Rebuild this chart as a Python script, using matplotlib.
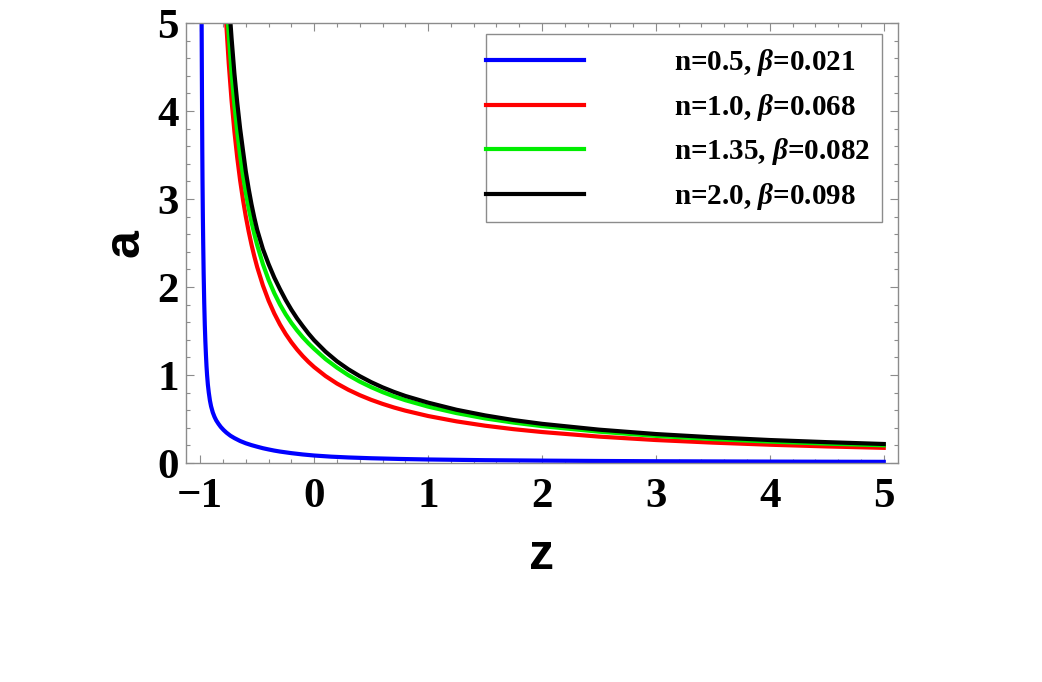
import matplotlib
matplotlib.use("Agg")
import matplotlib.pyplot as plt
from matplotlib.patches import Rectangle
from matplotlib.ticker import MultipleLocator

# ---- data ----
labels = [r"n=0.5, $\beta$=0.021", r"n=1.0, $\beta$=0.068",
          r"n=1.35, $\beta$=0.082", r"n=2.0, $\beta$=0.098"]
colors = ["#0000ff", "#ff0000", "#00ee00", "#000000"]

z_blue = [-0.988, -0.986, -0.984, -0.982, -0.980, -0.977, -0.974, -0.970, -0.965, -0.960,
          -0.955, -0.950, -0.945, -0.940, -0.933, -0.925, -0.915, -0.905, -0.89, -0.875,
          -0.86, -0.84, -0.82, -0.795, -0.77, -0.735, -0.70, -0.65, -0.60, -0.55,
          -0.50, -0.45, -0.40, -0.35, -0.30, -0.2, -0.1, 0.0, 0.15, 0.3,
          0.5, 0.75, 1.0, 1.5, 2.0, 2.5, 3.0, 4.0, 5.0]
a_blue = [5.05, 4.5, 4.0, 3.55, 3.2, 2.8, 2.5, 2.15, 1.82, 1.57,
          1.38, 1.23, 1.10, 1.00, 0.89, 0.80, 0.71, 0.645, 0.575, 0.525,
          0.485, 0.445, 0.41, 0.375, 0.345, 0.31, 0.283, 0.25, 0.224, 0.203,
          0.185, 0.168, 0.154, 0.141, 0.13, 0.112, 0.097, 0.085, 0.072, 0.063,
          0.054, 0.046, 0.040, 0.032, 0.027, 0.023, 0.020, 0.016, 0.013]

z_red = [-0.79, -0.775, -0.75, -0.725, -0.70, -0.675, -0.65, -0.625, -0.60, -0.575,
         -0.55, -0.525, -0.50, -0.45, -0.40, -0.35, -0.30, -0.25, -0.20, -0.15,
         -0.10, -0.05, 0.0, 0.1, 0.2, 0.3, 0.4, 0.5, 0.6, 0.7,
         0.8, 1.0, 1.25, 1.5, 1.75, 2.0, 2.5, 3.0, 3.5, 4.0, 4.5, 5.0]
a_red = [5.44, 5.065, 4.545, 4.119, 3.766, 3.468, 3.213, 2.994, 2.801, 2.632,
         2.481, 2.347, 2.226, 2.018, 1.845, 1.699, 1.574, 1.466, 1.372, 1.289,
         1.215, 1.149, 1.09, 0.988, 0.903, 0.832, 0.771, 0.718, 0.672, 0.631,
         0.595, 0.534, 0.473, 0.424, 0.3845, 0.352, 0.300, 0.261, 0.2315, 0.2077, 0.1883, 0.1722]

z_green = [-0.76, -0.75, -0.725, -0.70, -0.675, -0.65, -0.625, -0.60, -0.575, -0.55,
           -0.525, -0.50, -0.45, -0.40, -0.35, -0.30, -0.25, -0.20, -0.15, -0.10,
           -0.05, 0.0, 0.1, 0.2, 0.3, 0.4, 0.5, 0.6, 0.7, 0.8,
           1.0, 1.25, 1.5, 1.75, 2.0, 2.5, 3.0, 3.5, 4.0, 4.5, 5.0]
a_green = [5.073, 4.872, 4.432, 4.067, 3.759, 3.496, 3.269, 3.070, 2.895, 2.739,
           2.600, 2.475, 2.260, 2.081, 1.930, 1.801, 1.689, 1.592, 1.506, 1.429,
           1.360, 1.297, 1.181, 1.084, 0.998, 0.925, 0.862, 0.806, 0.757, 0.714,
           0.641, 0.567, 0.507, 0.459, 0.419, 0.356, 0.308, 0.272, 0.243, 0.220, 0.201]

z_black = [-0.74, -0.725, -0.70, -0.675, -0.65, -0.625, -0.60, -0.575, -0.55, -0.525,
           -0.50, -0.45, -0.40, -0.35, -0.30, -0.25, -0.20, -0.15, -0.10, -0.05,
           0.0, 0.1, 0.2, 0.3, 0.4, 0.5, 0.6, 0.7, 0.8, 1.0,
           1.25, 1.5, 1.75, 2.0, 2.5, 3.0, 3.5, 4.0, 4.5, 5.0]
a_black = [5.10, 4.827, 4.425, 4.092, 3.801, 3.554, 3.314, 3.116, 2.940, 2.786,
           2.649, 2.432, 2.260, 2.107, 1.975, 1.852, 1.742, 1.643, 1.555, 1.471,
           1.395, 1.265, 1.156, 1.065, 0.987, 0.919, 0.860, 0.808, 0.762, 0.686,
           0.605, 0.541, 0.488, 0.445, 0.379, 0.329, 0.292, 0.261, 0.237, 0.216]

series = [(z_blue, a_blue), (z_red, a_red), (z_green, a_green), (z_black, a_black)]

plt.rcParams['mathtext.fontset'] = 'custom'
plt.rcParams['mathtext.it'] = 'Liberation Serif:italic:bold'
plt.rcParams['mathtext.rm'] = 'Liberation Serif:bold'
plt.rcParams['mathtext.bf'] = 'Liberation Serif:bold'

fig = plt.figure(figsize=(10.42, 6.82), dpi=100)
ax = fig.add_axes([186/1042, 1-463/682, 712/1042, 440/682])

for (zz, aa), c, lab in zip(series, colors, labels):
    ax.plot(zz, aa, color=c, lw=3.0, label=lab, solid_joinstyle='round')

ax.set_xlim(-1.125, 5.125)
ax.set_ylim(0, 5)

gray = '#8c8c8c'
for s in ax.spines.values():
    s.set_color(gray)
    s.set_linewidth(1.0)

ax.xaxis.set_major_locator(MultipleLocator(1))
ax.xaxis.set_minor_locator(MultipleLocator(0.2))
ax.yaxis.set_major_locator(MultipleLocator(1))
ax.yaxis.set_minor_locator(MultipleLocator(0.2))
ax.tick_params(which='both', direction='in', top=True, right=True, color=gray, width=0.8)
ax.tick_params(which='major', length=6)
ax.tick_params(which='minor', length=3)
ax.tick_params(axis='x', which='major', pad=11)
ax.tick_params(axis='y', which='major', pad=5)

ax.set_xticks([-1, 0, 1, 2, 3, 4, 5])
ax.set_xticklabels(['\u22121', '0', '1', '2', '3', '4', '5'])
for lab in ax.get_xticklabels() + ax.get_yticklabels():
    lab.set_fontfamily('Liberation Serif')
    lab.set_fontweight('bold')
    lab.set_fontsize(31)

ax.set_xlabel('z', fontfamily='Liberation Sans', fontweight='bold', fontsize=36)
ax.set_ylabel('a', fontfamily='Liberation Sans', fontweight='bold', fontsize=36)
ax.xaxis.set_label_coords(0.5, -0.159)
ax.yaxis.set_label_coords(-0.053, 0.5)

# legend box
bx0, by0 = (486-186)/712, (463-222)/440
bx1, by1 = (882-186)/712, (463-34)/440
ax.add_patch(Rectangle((bx0, by0), bx1-bx0, by1-by0, transform=ax.transAxes,
                       fill=False, edgecolor=gray, lw=1.0, zorder=5))
leg = ax.legend(loc='upper left', bbox_to_anchor=(bx0, (463-47)/440), frameon=False,
                borderpad=0, borderaxespad=0, handlelength=3.36, handletextpad=3.08,
                labelspacing=0.47,
                prop={'family': 'Liberation Serif', 'weight': 'bold', 'size': 21})

fig.savefig('out.png', dpi=100)
